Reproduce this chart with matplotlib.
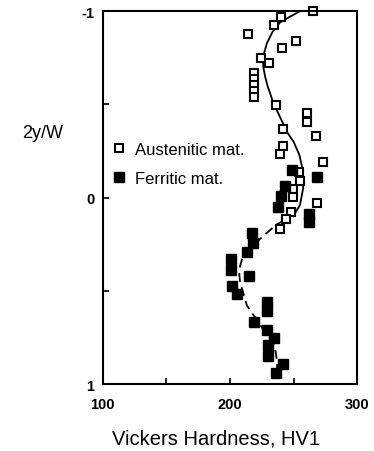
import matplotlib
matplotlib.use("Agg")
import matplotlib.pyplot as plt

plt.rcParams['font.family'] = ['Liberation Sans', 'DejaVu Sans']

# Austenitic material (open squares): hardness, 2y/W
aus_hv = [265, 240, 234.6, 214, 252, 241, 224, 230.7, 219, 219, 219, 219, 219,
          236, 260.6, 260.6, 242, 267.7, 241.7, 239.4, 273, 254, 255, 249.6,
          249.6, 268.5, 248, 244, 239.4]
aus_y = [-1.0, -0.97, -0.925, -0.88, -0.84, -0.80, -0.75, -0.72, -0.668, -0.635,
         -0.603, -0.571, -0.539, -0.496, -0.453, -0.405, -0.367, -0.33, -0.276,
         -0.233, -0.19, -0.137, -0.088, -0.046, -0.003, 0.03, 0.078, 0.115, 0.169]

# Ferritic material (filled squares)
fer_hv = [248.5, 268.5, 243.3, 240.2, 237.8, 262.2, 262.2, 217.3, 218, 213.4,
          200.8, 200.8, 215, 201.6, 205.5, 229, 229, 218.9, 229, 234.6, 229.9,
          229.9, 241.7, 236]
fer_y = [-0.148, -0.110, -0.062, -0.008, 0.051, 0.09, 0.13, 0.19, 0.244, 0.29,
         0.33, 0.39, 0.42, 0.475, 0.517, 0.56, 0.61, 0.667, 0.71, 0.753, 0.79,
         0.85, 0.893, 0.94]

# Fitted trend curves
aus_fit_hv = [255.1, 247, 239.4, 233.5, 229.1, 227, 226, 226.2, 227.6, 229.5, 234,
              239.5, 245, 250, 254.5, 257.5, 257.5, 255, 249.6]
aus_fit_y = [-1.0, -0.97, -0.94, -0.89, -0.83, -0.78, -0.74, -0.70, -0.65, -0.60,
             -0.51, -0.43, -0.35, -0.30, -0.23, -0.14, -0.05, 0.04, 0.10]
fer_fit_hv = [249.6, 244.9, 237, 226, 213.4, 209.5, 207.9, 207.3, 207.9, 211.8,
              213.4, 219.5, 226, 233.9, 236, 237, 237]
fer_fit_y = [0.062, 0.115, 0.142, 0.206, 0.287, 0.33, 0.367, 0.41, 0.453, 0.544,
             0.58, 0.64, 0.705, 0.775, 0.83, 0.88, 0.936]

x_major = [100, 200, 300]
x_minor = [150, 250]
y_major = [-1, 0, 1]
y_minor = [-0.5, 0.5]
y_labels = ['-1', '0', '1']

fig = plt.figure(figsize=(3.74, 4.52), dpi=100)
ax = fig.add_axes([0.275, 0.148, 0.68, 0.825])

ax.plot(aus_fit_hv, aus_fit_y, color='black', lw=1.3, solid_joinstyle='round')
ax.plot(fer_fit_hv, fer_fit_y, color='black', lw=1.3, dashes=(5, 3))

ax.plot(aus_hv, aus_y, linestyle='none', marker='s', ms=5.5, mfc='white',
        mec='black', mew=1.5, label='Austenitic mat.', clip_on=False)
ax.plot(fer_hv, fer_y, linestyle='none', marker='s', ms=6.5, mfc='black',
        mec='black', mew=1.0, label='Ferritic mat.', clip_on=False)

ax.set_xlim(100, 300)
ax.set_ylim(1, -1)

ax.set_xticks(x_major)
ax.set_xticks(x_minor, minor=True)
ax.set_yticks(y_major)
ax.set_yticks(y_minor, minor=True)
ax.set_yticklabels(y_labels)
ax.tick_params(which='both', direction='in', length=4, width=1.2, top=False, right=False)
ax.tick_params(axis='x', labelsize=10.5, pad=9)
ax.tick_params(axis='y', labelsize=10.5, pad=6)
for lab in ax.get_xticklabels() + ax.get_yticklabels():
    lab.set_fontweight('bold')

for s in ax.spines.values():
    s.set_linewidth(1.5)

ax.set_xlabel('Vickers Hardness, HV1', fontsize=14.5, labelpad=12)
ax.xaxis.set_label_coords(0.445, -0.12)
fig.text(0.115, 0.705, '2y/W', fontsize=13, ha='center', va='center')

leg = ax.legend(loc='upper left', bbox_to_anchor=(-0.01, 0.68), frameon=False,
                fontsize=12, handlelength=0.8, handletextpad=0.6,
                labelspacing=0.8, borderaxespad=0.3)

fig.savefig('out.png', dpi=100)
